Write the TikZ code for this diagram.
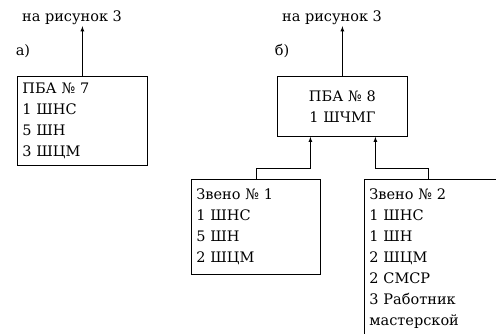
\documentclass[tikz,border=0pt]{standalone}
\usepackage{fontspec}
\setmainfont{DejaVu Serif}
\usetikzlibrary{positioning}
\usetikzlibrary{arrows}
\tikzset{
unit_box/.style={rectangle, draw, line width=0.8pt, anchor=north west, align=left, inner xsep=5pt, font=\fontsize{14.5}{21}\selectfont},
caption_text/.style={rectangle, inner sep=1pt, font=\fontsize{14.5}{21}\selectfont},
link_arrow/.style={-latex, line width=0.8pt}
}

\begin{document}
\begin{tikzpicture}[x=1pt, y=-1pt]
    \useasboundingbox (0,0) rectangle (496,334);
    \clip (0,0) rectangle (496,334);
    % a)
    \node[caption_text] (ref_a) at (72,18) {на рисунок 3};
    \node[caption_text] (label_a) at (23,51) {а)};
    \node[unit_box, text width=120, minimum height=89] (pba_7) at (17,76) {ПБА № 7\\1 ШНС\\5 ШН\\3 ШЦМ};
    \draw[link_arrow] (pba_7.north) -- (pba_7.north |- ref_a.south);
    % b)
    \node[caption_text] (ref_b) at (332,18) {на рисунок 3};
    \node[caption_text] (label_b) at (282,51) {б)};
    \node[unit_box, align=center, text width=120, minimum height=60] (pba_8) at (277,76) {ПБА № 8\\1 ШЧМГ};
    \draw[link_arrow] (pba_8.north) -- (pba_8.north |- ref_b.south);
    \node[unit_box, text width=119, minimum height=95] (link_1) at (191,179) {Звено № 1\\1 ШНС\\5 ШН\\2 ШЦМ};
    \node[unit_box, text width=150, inner ysep=9pt] (link_2) at (364,179) {Звено № 2\\1 ШНС\\1 ШН\\2 ШЦМ\\2 СМСР\\3 Работник\\мастерской};
    \draw[link_arrow] (link_1.north) -- ++(0,-11) -| ([xshift=-32pt]pba_8.south);
    \draw[link_arrow] ([xshift=64pt]link_2.north west) -- ++(0,-11) -| ([xshift=33pt]pba_8.south);
\end{tikzpicture}
\end{document}
